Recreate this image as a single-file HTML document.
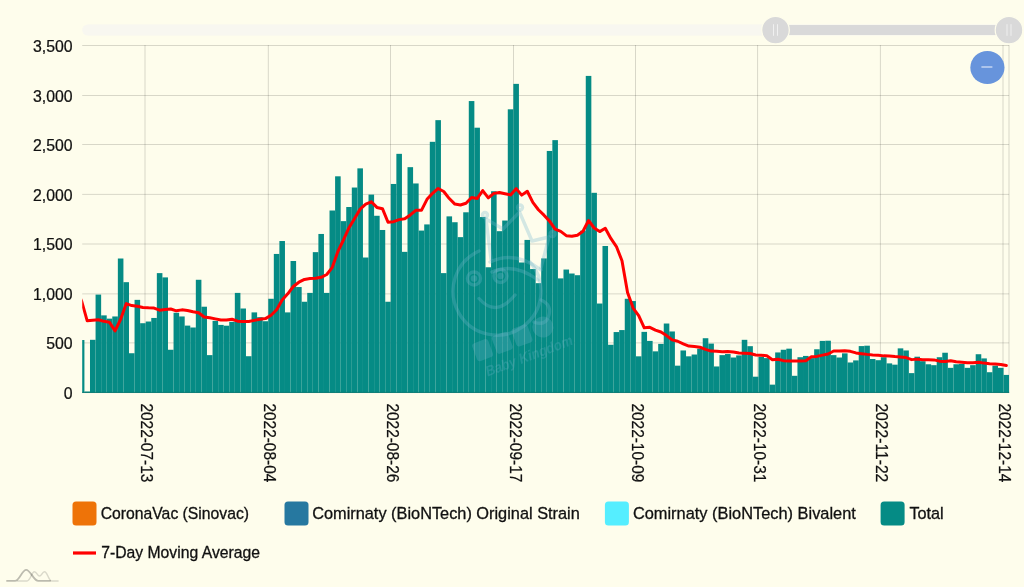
<!DOCTYPE html>
<html><head><meta charset="utf-8"><title>Chart</title>
<style>html,body{margin:0;padding:0;background:#fefdec;}body{width:1024px;height:587px;overflow:hidden;font-family:"Liberation Sans",sans-serif;}svg{display:block;position:absolute;left:0;top:0;will-change:transform;}text{font-family:"Liberation Sans",sans-serif;}</style>
</head><body>
<svg width="1024" height="587" viewBox="0 0 1024 587">
<rect x="0" y="0" width="1024" height="587" fill="#fefdec"/>
<rect x="82.2" y="24.6" width="927" height="11" rx="5.5" fill="#f3f3f3" fill-opacity="0.6"/>
<rect x="776" y="25" width="233" height="10" fill="#d9d9d9"/>
<circle cx="775.5" cy="30.1" r="13.8" fill="#d9d9d9" stroke="#fefdec" stroke-width="1.2"/>
<path d="M773.5 24.2V35.8M777.5 24.2V35.8" stroke="#fff" stroke-opacity="0.6" stroke-width="1" fill="none"/>
<circle cx="1009" cy="30.1" r="13.8" fill="#d9d9d9" stroke="#fefdec" stroke-width="1.2"/>
<path d="M1007.0 24.2V35.8M1011.0 24.2V35.8" stroke="#fff" stroke-opacity="0.6" stroke-width="1" fill="none"/>
<defs><clipPath id="pc"><rect x="82.2" y="40.1" width="926.9" height="352.9"/></clipPath></defs>
<path d="M82.2 392.60H1009.1M82.2 342.90H1009.1M82.2 293.90H1009.1M82.2 244.00H1009.1M82.2 194.40H1009.1M82.2 144.50H1009.1M82.2 95.50H1009.1M82.2 45.50H1009.1M145.00 45.0V393.0M268.30 45.0V393.0M390.50 45.0V393.0M513.50 45.0V393.0M635.50 45.0V393.0M757.60 45.0V393.0M880.40 45.0V393.0M1003.00 45.0V393.0M1009.00 45.0V393.0" stroke="#000" stroke-opacity="0.15" stroke-width="1" fill="none"/>
<g clip-path="url(#pc)" fill="#058b85">
<rect x="78.85" y="340.02" width="5.57" height="52.78"/>
<rect x="84.42" y="391.51" width="5.57" height="1.29"/>
<rect x="89.99" y="339.82" width="5.57" height="52.98"/>
<rect x="95.57" y="294.59" width="5.57" height="98.21"/>
<rect x="101.14" y="315.37" width="5.57" height="77.43"/>
<rect x="106.71" y="318.65" width="5.57" height="74.15"/>
<rect x="112.28" y="316.46" width="5.57" height="76.34"/>
<rect x="117.85" y="258.51" width="5.57" height="134.29"/>
<rect x="123.42" y="282.17" width="5.57" height="110.63"/>
<rect x="128.99" y="353.24" width="5.57" height="39.56"/>
<rect x="134.56" y="299.86" width="5.57" height="92.94"/>
<rect x="140.13" y="323.22" width="5.57" height="69.58"/>
<rect x="145.70" y="321.53" width="5.57" height="71.27"/>
<rect x="151.27" y="317.95" width="5.57" height="74.85"/>
<rect x="156.84" y="273.12" width="5.57" height="119.68"/>
<rect x="162.41" y="277.40" width="5.57" height="115.40"/>
<rect x="167.98" y="349.76" width="5.57" height="43.04"/>
<rect x="173.55" y="312.78" width="5.57" height="80.02"/>
<rect x="179.12" y="316.46" width="5.57" height="76.34"/>
<rect x="184.69" y="325.61" width="5.57" height="67.19"/>
<rect x="190.26" y="327.50" width="5.57" height="65.30"/>
<rect x="195.83" y="279.78" width="5.57" height="113.02"/>
<rect x="201.40" y="306.72" width="5.57" height="86.08"/>
<rect x="206.98" y="355.13" width="5.57" height="37.67"/>
<rect x="212.55" y="320.84" width="5.57" height="71.96"/>
<rect x="218.12" y="324.91" width="5.57" height="67.89"/>
<rect x="223.69" y="325.71" width="5.57" height="67.09"/>
<rect x="229.26" y="321.83" width="5.57" height="70.97"/>
<rect x="234.83" y="292.90" width="5.57" height="99.90"/>
<rect x="240.40" y="308.51" width="5.57" height="84.29"/>
<rect x="245.97" y="356.22" width="5.57" height="36.58"/>
<rect x="251.54" y="312.39" width="5.57" height="80.41"/>
<rect x="257.11" y="317.16" width="5.57" height="75.64"/>
<rect x="262.68" y="321.23" width="5.57" height="71.57"/>
<rect x="268.25" y="298.77" width="5.57" height="94.03"/>
<rect x="273.82" y="253.94" width="5.57" height="138.86"/>
<rect x="279.39" y="241.02" width="5.57" height="151.78"/>
<rect x="284.96" y="312.39" width="5.57" height="80.41"/>
<rect x="290.53" y="261.00" width="5.57" height="131.80"/>
<rect x="296.10" y="287.04" width="5.57" height="105.76"/>
<rect x="301.67" y="301.75" width="5.57" height="91.05"/>
<rect x="307.24" y="292.90" width="5.57" height="99.90"/>
<rect x="312.81" y="252.15" width="5.57" height="140.65"/>
<rect x="318.39" y="233.96" width="5.57" height="158.84"/>
<rect x="323.96" y="292.90" width="5.57" height="99.90"/>
<rect x="329.53" y="210.50" width="5.57" height="182.30"/>
<rect x="335.10" y="176.31" width="5.57" height="216.49"/>
<rect x="340.67" y="221.14" width="5.57" height="171.66"/>
<rect x="346.24" y="207.02" width="5.57" height="185.78"/>
<rect x="351.81" y="187.54" width="5.57" height="205.26"/>
<rect x="357.38" y="168.36" width="5.57" height="224.44"/>
<rect x="362.95" y="257.52" width="5.57" height="135.28"/>
<rect x="368.52" y="194.60" width="5.57" height="198.20"/>
<rect x="374.09" y="215.77" width="5.57" height="177.03"/>
<rect x="379.66" y="229.98" width="5.57" height="162.82"/>
<rect x="385.23" y="301.75" width="5.57" height="91.05"/>
<rect x="390.80" y="183.96" width="5.57" height="208.84"/>
<rect x="396.37" y="153.84" width="5.57" height="238.96"/>
<rect x="401.94" y="251.85" width="5.57" height="140.95"/>
<rect x="407.51" y="167.16" width="5.57" height="225.64"/>
<rect x="413.08" y="183.46" width="5.57" height="209.34"/>
<rect x="418.65" y="230.58" width="5.57" height="162.22"/>
<rect x="424.22" y="224.42" width="5.57" height="168.38"/>
<rect x="429.80" y="141.82" width="5.57" height="250.98"/>
<rect x="435.37" y="120.15" width="5.57" height="272.65"/>
<rect x="440.94" y="273.12" width="5.57" height="119.68"/>
<rect x="446.51" y="216.37" width="5.57" height="176.43"/>
<rect x="452.08" y="222.23" width="5.57" height="170.57"/>
<rect x="457.65" y="237.14" width="5.57" height="155.66"/>
<rect x="463.22" y="212.29" width="5.57" height="180.51"/>
<rect x="468.79" y="101.06" width="5.57" height="291.74"/>
<rect x="474.36" y="127.70" width="5.57" height="265.10"/>
<rect x="479.93" y="217.06" width="5.57" height="175.74"/>
<rect x="485.50" y="267.26" width="5.57" height="125.54"/>
<rect x="491.07" y="191.22" width="5.57" height="201.58"/>
<rect x="496.64" y="231.18" width="5.57" height="161.62"/>
<rect x="502.21" y="220.54" width="5.57" height="172.26"/>
<rect x="507.78" y="109.31" width="5.57" height="283.49"/>
<rect x="513.35" y="83.87" width="5.57" height="308.93"/>
<rect x="518.92" y="262.49" width="5.57" height="130.31"/>
<rect x="524.49" y="239.92" width="5.57" height="152.88"/>
<rect x="530.06" y="269.05" width="5.57" height="123.75"/>
<rect x="535.63" y="283.16" width="5.57" height="109.64"/>
<rect x="541.21" y="258.41" width="5.57" height="134.39"/>
<rect x="546.78" y="150.96" width="5.57" height="241.84"/>
<rect x="552.35" y="140.13" width="5.57" height="252.67"/>
<rect x="557.92" y="278.39" width="5.57" height="114.41"/>
<rect x="563.49" y="269.55" width="5.57" height="123.25"/>
<rect x="569.06" y="273.52" width="5.57" height="119.28"/>
<rect x="574.63" y="275.21" width="5.57" height="117.59"/>
<rect x="580.20" y="230.68" width="5.57" height="162.12"/>
<rect x="585.77" y="75.91" width="5.57" height="316.89"/>
<rect x="591.34" y="192.81" width="5.57" height="199.99"/>
<rect x="596.91" y="303.54" width="5.57" height="89.26"/>
<rect x="602.48" y="245.99" width="5.57" height="146.81"/>
<rect x="608.05" y="344.79" width="5.57" height="48.01"/>
<rect x="613.62" y="332.07" width="5.57" height="60.73"/>
<rect x="619.19" y="330.08" width="5.57" height="62.72"/>
<rect x="624.76" y="298.77" width="5.57" height="94.03"/>
<rect x="630.33" y="301.06" width="5.57" height="91.75"/>
<rect x="635.90" y="356.32" width="5.57" height="36.48"/>
<rect x="641.47" y="331.87" width="5.57" height="60.93"/>
<rect x="647.05" y="340.91" width="5.57" height="51.89"/>
<rect x="652.62" y="351.35" width="5.57" height="41.45"/>
<rect x="658.19" y="343.90" width="5.57" height="48.90"/>
<rect x="663.76" y="323.52" width="5.57" height="69.28"/>
<rect x="669.33" y="331.47" width="5.57" height="61.33"/>
<rect x="674.90" y="365.67" width="5.57" height="27.13"/>
<rect x="680.47" y="350.46" width="5.57" height="42.34"/>
<rect x="686.04" y="356.32" width="5.57" height="36.48"/>
<rect x="691.61" y="354.53" width="5.57" height="38.27"/>
<rect x="697.18" y="348.67" width="5.57" height="44.13"/>
<rect x="702.75" y="338.23" width="5.57" height="54.57"/>
<rect x="708.32" y="343.60" width="5.57" height="49.20"/>
<rect x="713.89" y="366.46" width="5.57" height="26.34"/>
<rect x="719.46" y="355.13" width="5.57" height="37.67"/>
<rect x="725.03" y="354.04" width="5.57" height="38.76"/>
<rect x="730.60" y="357.51" width="5.57" height="35.29"/>
<rect x="736.17" y="355.43" width="5.57" height="37.37"/>
<rect x="741.74" y="339.82" width="5.57" height="52.98"/>
<rect x="747.31" y="346.18" width="5.57" height="46.62"/>
<rect x="752.88" y="376.70" width="5.57" height="16.10"/>
<rect x="758.45" y="356.82" width="5.57" height="35.98"/>
<rect x="764.03" y="358.11" width="5.57" height="34.69"/>
<rect x="769.60" y="384.65" width="5.57" height="8.15"/>
<rect x="775.17" y="352.44" width="5.57" height="40.36"/>
<rect x="780.74" y="349.76" width="5.57" height="43.04"/>
<rect x="786.31" y="348.67" width="5.57" height="44.13"/>
<rect x="791.88" y="375.80" width="5.57" height="17.00"/>
<rect x="797.45" y="357.22" width="5.57" height="35.58"/>
<rect x="803.02" y="355.92" width="5.57" height="36.88"/>
<rect x="808.59" y="358.11" width="5.57" height="34.69"/>
<rect x="814.16" y="349.26" width="5.57" height="43.54"/>
<rect x="819.73" y="340.91" width="5.57" height="51.89"/>
<rect x="825.30" y="340.72" width="5.57" height="52.08"/>
<rect x="830.87" y="355.13" width="5.57" height="37.67"/>
<rect x="836.44" y="357.51" width="5.57" height="35.29"/>
<rect x="842.01" y="353.34" width="5.57" height="39.46"/>
<rect x="847.58" y="362.48" width="5.57" height="30.32"/>
<rect x="853.15" y="360.40" width="5.57" height="32.40"/>
<rect x="858.72" y="346.08" width="5.57" height="46.72"/>
<rect x="864.29" y="345.69" width="5.57" height="47.11"/>
<rect x="869.87" y="359.01" width="5.57" height="33.79"/>
<rect x="875.44" y="360.20" width="5.57" height="32.60"/>
<rect x="881.01" y="357.22" width="5.57" height="35.58"/>
<rect x="886.58" y="363.38" width="5.57" height="29.42"/>
<rect x="892.15" y="364.67" width="5.57" height="28.13"/>
<rect x="897.72" y="348.37" width="5.57" height="44.43"/>
<rect x="903.29" y="350.46" width="5.57" height="42.34"/>
<rect x="908.86" y="373.12" width="5.57" height="19.68"/>
<rect x="914.43" y="356.72" width="5.57" height="36.08"/>
<rect x="920.00" y="361.19" width="5.57" height="31.61"/>
<rect x="925.57" y="364.27" width="5.57" height="28.53"/>
<rect x="931.14" y="365.17" width="5.57" height="27.63"/>
<rect x="936.71" y="357.22" width="5.57" height="35.58"/>
<rect x="942.28" y="352.74" width="5.57" height="40.06"/>
<rect x="947.85" y="367.85" width="5.57" height="24.95"/>
<rect x="953.42" y="364.27" width="5.57" height="28.53"/>
<rect x="958.99" y="363.98" width="5.57" height="28.82"/>
<rect x="964.56" y="367.85" width="5.57" height="24.95"/>
<rect x="970.13" y="365.17" width="5.57" height="27.63"/>
<rect x="975.70" y="354.23" width="5.57" height="38.57"/>
<rect x="981.28" y="358.41" width="5.57" height="34.39"/>
<rect x="986.85" y="372.23" width="5.57" height="20.57"/>
<rect x="992.42" y="365.67" width="5.57" height="27.13"/>
<rect x="997.99" y="367.85" width="5.57" height="24.95"/>
<rect x="1003.56" y="374.91" width="5.57" height="17.89"/>
</g>
<path d="M82.2 392.4H1009.1" stroke="#02706b" stroke-opacity="0.75" stroke-width="1" fill="none"/>
<g fill="none" stroke="#6fb6cc" stroke-opacity="0.3" stroke-width="3.4" stroke-linecap="round" stroke-linejoin="round">
<path d="M479 251A44 44 0 1 0 530 262"/>
<path d="M491 259L486 219L503 229L519.5 212L532 241L549 237L541 268"/>
<circle cx="485" cy="215" r="2.5"/><circle cx="520" cy="207.5" r="2.5"/><circle cx="552.5" cy="234" r="2.5"/>
<path d="M490 262Q515 250 541 270M492 272Q514 262 538 280"/>
<circle cx="474" cy="278.5" r="6.5"/><circle cx="474" cy="278.5" r="1.6"/>
<circle cx="500.5" cy="276" r="6.5"/><circle cx="500.5" cy="276" r="1.6"/>
<path d="M479 298.5Q496 318 515 295"/>
<path d="M541 300Q553 305 548 318Q544 326 534 322"/>
</g>
<g transform="translate(478,362) rotate(-20.5)" fill="#6fb6cc" fill-opacity="0.27" stroke="none">
<rect x="0" y="-19" width="17" height="19" rx="3"/><rect x="21" y="-19" width="17" height="19" rx="3"/><rect x="42" y="-19" width="17" height="19" rx="3"/><circle cx="73" cy="-10" r="10.5"/>
<text x="4" y="17" font-size="14.5" font-weight="bold" font-style="italic" textLength="92" lengthAdjust="spacingAndGlyphs">Baby Kingdom</text>
</g>
<polyline clip-path="url(#pc)" points="76.07,288.63 81.64,301.06 87.21,320.84 92.78,320.14 98.35,319.74 103.92,321.33 109.49,322.33 115.06,330.92 120.63,319.27 126.20,303.65 131.77,305.57 137.34,306.32 142.91,307.45 148.49,307.86 154.06,308.07 159.63,310.16 165.20,309.48 170.77,308.98 176.34,310.82 181.91,309.86 187.48,310.44 193.05,311.80 198.62,312.76 204.19,316.94 209.76,317.71 215.33,318.86 220.90,320.07 226.47,320.08 232.04,319.27 237.61,321.15 243.18,321.40 248.75,321.56 254.32,320.35 259.90,319.25 265.47,318.61 271.04,315.31 276.61,309.75 282.18,300.10 287.75,293.84 293.32,286.50 298.89,282.20 304.46,279.41 310.03,278.58 315.60,278.32 321.17,277.31 326.74,274.53 332.31,267.32 337.88,251.50 343.45,239.98 349.02,227.71 354.59,218.48 360.16,209.11 365.73,204.05 371.31,201.78 376.88,207.42 382.45,208.68 388.02,222.22 393.59,221.71 399.16,219.63 404.73,218.82 410.30,214.90 415.87,210.29 421.44,210.37 427.01,199.33 432.58,193.31 438.15,188.49 443.72,191.53 449.29,198.56 454.86,204.10 460.43,205.03 466.00,203.30 471.57,197.48 477.14,198.56 482.72,190.55 488.29,197.82 493.86,193.39 499.43,192.54 505.00,193.72 510.57,194.90 516.14,188.63 521.71,195.12 527.28,191.22 532.85,202.34 538.42,209.76 543.99,215.17 549.56,221.12 555.13,229.16 560.70,231.43 566.27,235.66 571.84,236.30 577.41,235.17 582.98,231.21 588.55,220.48 594.13,228.01 599.70,231.60 605.27,228.24 610.84,238.42 616.41,246.54 621.98,260.74 627.55,292.58 633.12,308.04 638.69,315.58 644.26,327.85 649.83,327.30 655.40,330.05 660.97,332.03 666.54,335.56 672.11,339.91 677.68,341.24 683.25,343.90 688.82,346.10 694.39,346.55 699.96,347.23 705.54,349.34 711.11,351.07 716.68,351.18 722.25,351.85 727.82,351.52 733.39,351.95 738.96,352.91 744.53,353.14 750.10,353.51 755.67,354.97 761.24,355.21 766.81,355.80 772.38,359.67 777.95,359.25 783.52,360.67 789.09,361.02 794.66,360.89 800.23,360.95 805.80,360.64 811.37,356.85 816.95,356.39 822.52,355.13 828.09,353.99 833.66,351.04 839.23,351.08 844.80,350.71 850.37,351.34 855.94,352.93 861.51,353.67 867.08,354.38 872.65,354.93 878.22,355.31 883.79,355.87 889.36,355.99 894.93,356.61 900.50,356.93 906.07,357.61 911.64,359.63 917.21,359.13 922.78,359.70 928.36,359.83 933.93,359.90 939.50,361.16 945.07,361.49 950.64,360.74 956.21,361.82 961.78,362.21 967.35,362.73 972.92,362.73 978.49,362.30 984.06,363.11 989.63,363.73 995.20,363.93 1000.77,364.49 1006.34,365.49" fill="none" stroke="#ff0000" stroke-width="3" stroke-linejoin="round" stroke-linecap="round"/>
<ellipse cx="987.4" cy="67.5" rx="17.1" ry="16.6" fill="#6794dc"/>
<path d="M981.4 67H992.4" stroke="#fff" stroke-opacity="0.65" stroke-width="1.4" fill="none"/>
<text transform="translate(72.6,398.70) scale(0.972,1)" font-size="16.3" text-anchor="end" fill="#111" stroke="#111" stroke-width="0.25">0</text>
<text transform="translate(72.6,349.00) scale(0.972,1)" font-size="16.3" text-anchor="end" fill="#111" stroke="#111" stroke-width="0.25">500</text>
<text transform="translate(72.6,300.00) scale(0.972,1)" font-size="16.3" text-anchor="end" fill="#111" stroke="#111" stroke-width="0.25">1,000</text>
<text transform="translate(72.6,250.10) scale(0.972,1)" font-size="16.3" text-anchor="end" fill="#111" stroke="#111" stroke-width="0.25">1,500</text>
<text transform="translate(72.6,200.50) scale(0.972,1)" font-size="16.3" text-anchor="end" fill="#111" stroke="#111" stroke-width="0.25">2,000</text>
<text transform="translate(72.6,150.60) scale(0.972,1)" font-size="16.3" text-anchor="end" fill="#111" stroke="#111" stroke-width="0.25">2,500</text>
<text transform="translate(72.6,101.60) scale(0.972,1)" font-size="16.3" text-anchor="end" fill="#111" stroke="#111" stroke-width="0.25">3,000</text>
<text transform="translate(72.6,51.60) scale(0.972,1)" font-size="16.3" text-anchor="end" fill="#111" stroke="#111" stroke-width="0.25">3,500</text>
<text transform="translate(141.0,403.4) rotate(90)" font-size="16.3" fill="#111" stroke="#111" stroke-width="0.25" textLength="78.9" lengthAdjust="spacingAndGlyphs">2022-07-13</text>
<text transform="translate(264.3,403.4) rotate(90)" font-size="16.3" fill="#111" stroke="#111" stroke-width="0.25" textLength="78.9" lengthAdjust="spacingAndGlyphs">2022-08-04</text>
<text transform="translate(386.5,403.4) rotate(90)" font-size="16.3" fill="#111" stroke="#111" stroke-width="0.25" textLength="78.9" lengthAdjust="spacingAndGlyphs">2022-08-26</text>
<text transform="translate(509.5,403.4) rotate(90)" font-size="16.3" fill="#111" stroke="#111" stroke-width="0.25" textLength="78.9" lengthAdjust="spacingAndGlyphs">2022-09-17</text>
<text transform="translate(631.5,403.4) rotate(90)" font-size="16.3" fill="#111" stroke="#111" stroke-width="0.25" textLength="78.9" lengthAdjust="spacingAndGlyphs">2022-10-09</text>
<text transform="translate(753.6,403.4) rotate(90)" font-size="16.3" fill="#111" stroke="#111" stroke-width="0.25" textLength="78.9" lengthAdjust="spacingAndGlyphs">2022-10-31</text>
<text transform="translate(876.4,403.4) rotate(90)" font-size="16.3" fill="#111" stroke="#111" stroke-width="0.25" textLength="78.9" lengthAdjust="spacingAndGlyphs">2022-11-22</text>
<text transform="translate(999.0,403.4) rotate(90)" font-size="16.3" fill="#111" stroke="#111" stroke-width="0.25" textLength="78.9" lengthAdjust="spacingAndGlyphs">2022-12-14</text>
<rect x="72.5" y="501.6" width="24" height="24" rx="3.5" fill="#ee7308"/>
<text x="100.7" y="519.0" font-size="16.3" fill="#111" stroke="#111" stroke-width="0.3" textLength="148.4" lengthAdjust="spacingAndGlyphs">CoronaVac (Sinovac)</text>
<rect x="284.5" y="501.6" width="24" height="24" rx="3.5" fill="#2678a0"/>
<text x="312.2" y="519.0" font-size="16.3" fill="#111" stroke="#111" stroke-width="0.3" textLength="267.6" lengthAdjust="spacingAndGlyphs">Comirnaty (BioNTech) Original Strain</text>
<rect x="604.9" y="501.6" width="24" height="24" rx="3.5" fill="#55eeff"/>
<text x="632.9" y="519.0" font-size="16.3" fill="#111" stroke="#111" stroke-width="0.3" textLength="223.0" lengthAdjust="spacingAndGlyphs">Comirnaty (BioNTech) Bivalent</text>
<rect x="880.6" y="501.6" width="24" height="24" rx="3.5" fill="#058b85"/>
<text x="909.4" y="519.0" font-size="16.3" fill="#111" stroke="#111" stroke-width="0.3" textLength="34.3" lengthAdjust="spacingAndGlyphs">Total</text>
<path d="M73 553H96" stroke="#ff0000" stroke-width="3.2" fill="none"/>
<text x="101.2" y="558.0" font-size="16.3" fill="#111" stroke="#111" stroke-width="0.3" textLength="158.8" lengthAdjust="spacingAndGlyphs">7-Day Moving Average</text>
<path d="M16.8 580.9H27C30.5 580.9 31.5 571.8 34.4 571.8C36.8 571.8 37.5 576.1 39.5 576.1C41.5 576.1 42.2 571.8 44.5 571.8C47.5 571.8 48.5 580.9 51.6 580.9H58.6" stroke="#000" stroke-opacity="0.14" stroke-width="1.5" fill="none" stroke-linejoin="round"/>
<path d="M6.3 580.9H15C19.5 580.9 22 569.8 26.2 569.8C30.5 569.8 33.5 580.9 38.3 580.9H50.8" stroke="#000" stroke-opacity="0.26" stroke-width="1.8" fill="none" stroke-linejoin="round"/>
</svg>
</body></html>
